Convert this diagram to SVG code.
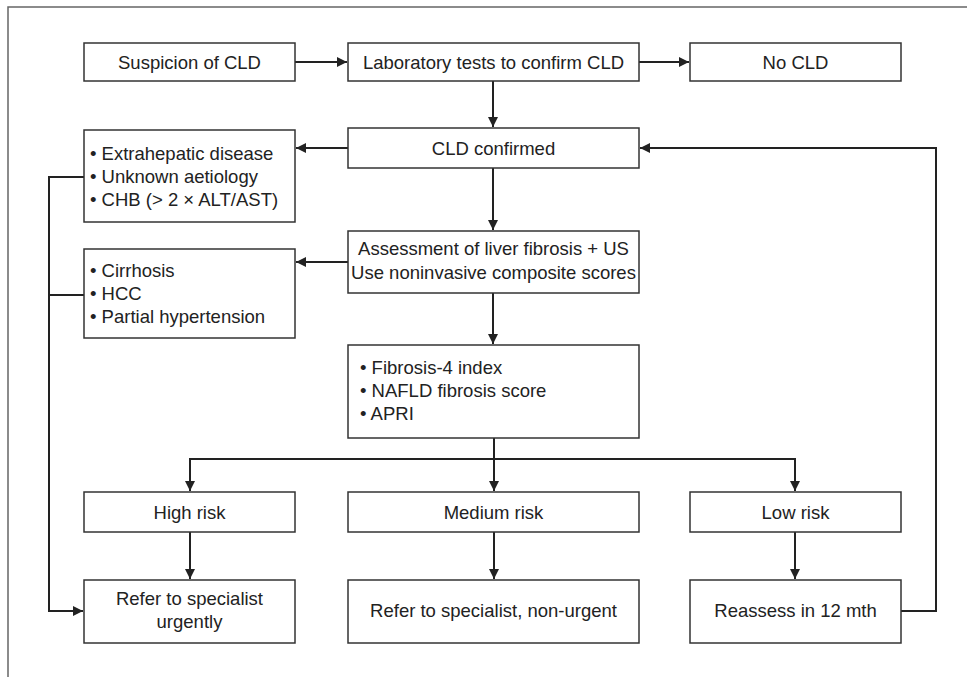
<svg xmlns="http://www.w3.org/2000/svg" width="967" height="677" viewBox="0 0 967 677">
<defs>
<marker id="ah" viewBox="0 0 10 10" refX="10" refY="5" markerWidth="10" markerHeight="10" markerUnits="userSpaceOnUse" orient="auto">
<path d="M0,0 L10,5 L0,10 Z" fill="#222"/>
</marker>
<style>
.box{fill:#fff;stroke:#333;stroke-width:1.5}
.t{font-family:"Liberation Sans",Arial,sans-serif;font-size:18.5px;fill:#222}
.c{text-anchor:middle}
.ln{fill:none;stroke:#222;stroke-width:2}
.ar{fill:none;stroke:#222;stroke-width:2;marker-end:url(#ah)}
</style>
</defs>
<rect x="0" y="0" width="967" height="677" fill="#fff"/>
<rect x="8" y="7" width="1000" height="700" fill="none" stroke="#666" stroke-width="1.5"/>

<g id="connectors">
<path class="ar" d="M295,62 H347"/>
<path class="ar" d="M639,62 H689"/>
<path class="ar" d="M493,81 V127"/>
<path class="ar" d="M348,148 H296"/>
<path class="ar" d="M493,168 V230"/>
<path class="ar" d="M348,262 H296"/>
<path class="ar" d="M493,293 V344"/>
<path class="ln" d="M494,438 V459"/>
<path class="ln" d="M190,459 H795"/>
<path class="ar" d="M190,458 V491"/>
<path class="ar" d="M494,459 V491"/>
<path class="ar" d="M795,458 V491"/>
<path class="ar" d="M190,532 V579"/>
<path class="ar" d="M494,532 V579"/>
<path class="ar" d="M795,532 V579"/>
<path class="ln" d="M84,177 H49"/>
<path class="ln" d="M84,295 H49"/>
<path class="ar" d="M49,176 V611 H83"/>
<path class="ar" d="M901,611 H936 V148 H640"/>
</g>

<g id="n1"><rect class="box" x="84" y="43" width="211" height="38"/><text class="t c" x="189.5" y="68.5">Suspicion of CLD</text></g>
<g id="n2"><rect class="box" x="348" y="43" width="291" height="38"/><text class="t c" x="493.5" y="68.5">Laboratory tests to confirm CLD</text></g>
<g id="n3"><rect class="box" x="690" y="43" width="211" height="38"/><text class="t c" x="795.5" y="68.5">No CLD</text></g>
<g id="n4"><rect class="box" x="348" y="128" width="291" height="40"/><text class="t c" x="493.5" y="154.5">CLD confirmed</text></g>
<g id="n5"><rect class="box" x="84" y="130" width="211" height="92"/>
<text class="t" x="90" y="160">• Extrahepatic disease</text>
<text class="t" x="90" y="183">• Unknown aetiology</text>
<text class="t" x="90" y="206">• CHB (&gt; 2 × ALT/AST)</text></g>
<g id="n6"><rect class="box" x="348" y="231" width="291" height="62"/>
<text class="t c" x="493.5" y="255">Assessment of liver fibrosis + US</text>
<text class="t c" x="493.5" y="279">Use noninvasive composite scores</text></g>
<g id="n7"><rect class="box" x="84" y="249" width="211" height="89"/>
<text class="t" x="90" y="277">• Cirrhosis</text>
<text class="t" x="90" y="300">• HCC</text>
<text class="t" x="90" y="323">• Partial hypertension</text></g>
<g id="n8"><rect class="box" x="348" y="345" width="291" height="93"/>
<text class="t" x="360" y="374">• Fibrosis-4 index</text>
<text class="t" x="360" y="397">• NAFLD fibrosis score</text>
<text class="t" x="360" y="420">• APRI</text></g>
<g id="n9"><rect class="box" x="84" y="492" width="211" height="40"/><text class="t c" x="189.5" y="518.5">High risk</text></g>
<g id="n10"><rect class="box" x="348" y="492" width="291" height="40"/><text class="t c" x="493.5" y="518.5">Medium risk</text></g>
<g id="n11"><rect class="box" x="690" y="492" width="211" height="40"/><text class="t c" x="795.5" y="518.5">Low risk</text></g>
<g id="n12"><rect class="box" x="84" y="580" width="211" height="63"/>
<text class="t c" x="189.5" y="605">Refer to specialist</text>
<text class="t c" x="189.5" y="628">urgently</text></g>
<g id="n13"><rect class="box" x="348" y="580" width="291" height="63"/><text class="t c" x="493.5" y="617">Refer to specialist, non-urgent</text></g>
<g id="n14"><rect class="box" x="690" y="580" width="211" height="63"/><text class="t c" x="795.5" y="617">Reassess in 12 mth</text></g>
</svg>
